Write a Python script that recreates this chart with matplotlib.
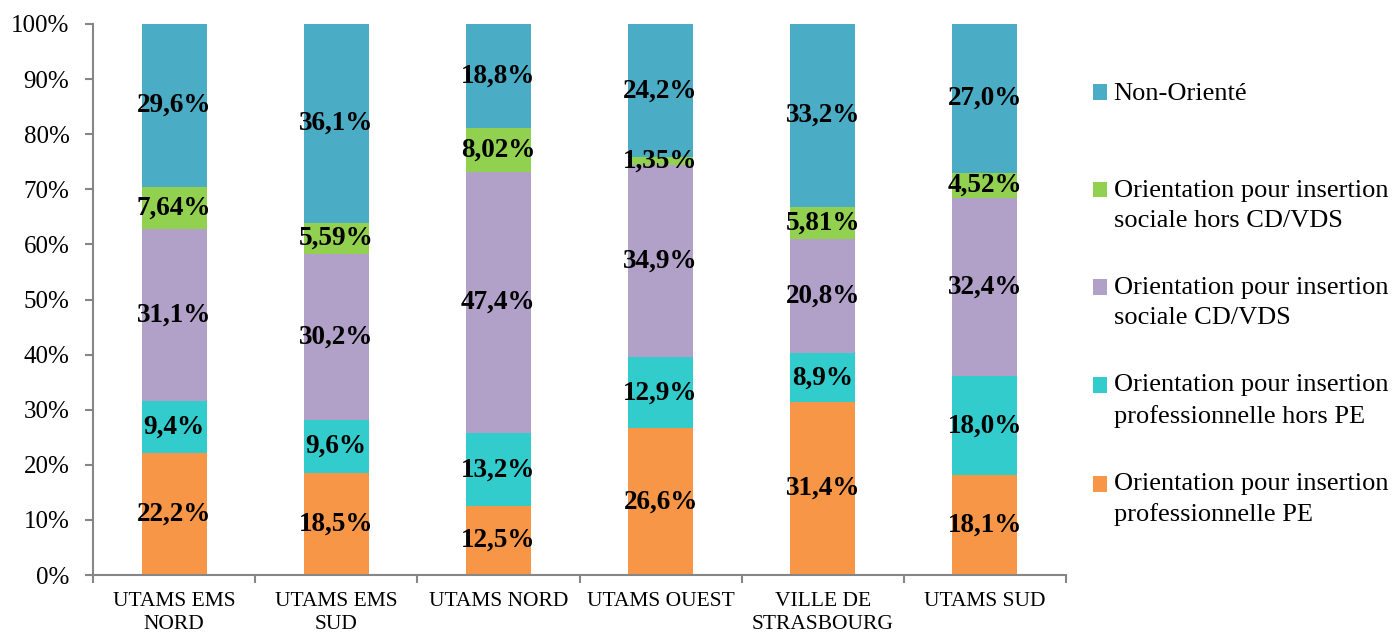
import matplotlib
matplotlib.use("Agg")
import matplotlib.pyplot as plt
import numpy as np
from matplotlib.patches import Rectangle
from matplotlib.legend_handler import HandlerPatch

categories = ["UTAMS EMS\nNORD", "UTAMS EMS\nSUD", "UTAMS NORD", "UTAMS OUEST",
              "VILLE DE\nSTRASBOURG", "UTAMS SUD"]
series_names = ["Orientation pour insertion\nprofessionnelle PE",
                "Orientation pour insertion\nprofessionnelle hors PE",
                "Orientation pour insertion\nsociale CD/VDS",
                "Orientation pour insertion\nsociale hors CD/VDS",
                "Non-Orienté"]
pe = [22.2, 18.5, 12.5, 26.6, 31.4, 18.1]
hors_pe = [9.4, 9.6, 13.2, 12.9, 8.9, 18.0]
cd_vds = [31.1, 30.2, 47.4, 34.9, 20.8, 32.4]
hors_cd_vds = [7.64, 5.59, 8.02, 1.35, 5.81, 4.52]
non_oriente = [29.6, 36.1, 18.8, 24.2, 33.2, 27.0]
labels = [
    ["22,2%", "18,5%", "12,5%", "26,6%", "31,4%", "18,1%"],
    ["9,4%", "9,6%", "13,2%", "12,9%", "8,9%", "18,0%"],
    ["31,1%", "30,2%", "47,4%", "34,9%", "20,8%", "32,4%"],
    ["7,64%", "5,59%", "8,02%", "1,35%", "5,81%", "4,52%"],
    ["29,6%", "36,1%", "18,8%", "24,2%", "33,2%", "27,0%"],
]
colors = ["#F79646", "#33CCCC", "#B1A0C7", "#92D050", "#4BACC6"]

plt.rcParams['font.family'] = ['Liberation Serif', 'DejaVu Serif']

series = [pe, hors_pe, cd_vds, hors_cd_vds, non_oriente]
data = np.array(series, dtype=float)
totals = data.sum(axis=0)
frac = data / totals * 100

fig = plt.figure(figsize=(13.93, 6.34), dpi=100)
ax = fig.add_axes([93/1393, 1-575/634, (1066-93)/1393, (575-24)/634])

x = np.arange(len(categories))
bottom = np.zeros(len(categories))
for i, (vals, col) in enumerate(zip(frac, colors)):
    ax.bar(x, vals, width=0.4, bottom=bottom, color=col, label=series_names[i])
    for j in range(len(categories)):
        ax.text(x[j], bottom[j] + vals[j] / 2, labels[i][j], ha='center', va='center',
                fontsize=19.5, fontweight='bold', color='black')
    bottom += vals

ax.set_xlim(-0.5, len(categories) - 0.5)
ax.set_ylim(0, 100)
ax.set_yticks(np.arange(0, 101, 10))
ax.set_yticklabels([f"{v}%" for v in range(0, 101, 10)], fontsize=18)
ax.set_xticks(x)
ax.set_xticklabels(categories, fontsize=15.5, linespacing=1.3)
ax.tick_params(axis='x', length=0, pad=12)
ax.set_xticks(np.arange(-0.5, len(categories), 1), minor=True)
ax.tick_params(axis='x', which='minor', length=6, width=1.5, color='#868686', direction='out')
ax.tick_params(axis='y', length=6, width=1.5, color='#868686', direction='out', pad=11)
for s in ['top', 'right']:
    ax.spines[s].set_visible(False)
for s in ['left', 'bottom']:
    ax.spines[s].set_color('#868686')
    ax.spines[s].set_linewidth(1.5)


class TopHandler(HandlerPatch):
    def create_artists(self, legend, orig_handle, xdescent, ydescent, width, height, fontsize, trans):
        shift = fontsize * 0.58
        p = Rectangle((-xdescent, -ydescent + shift), width, height,
                      facecolor=orig_handle.get_facecolor(), edgecolor='none', transform=trans)
        return [p]


leg_labels = [s for s in series_names[::-1]]
leg_labels[0] = "Non-Orienté\n "
leg_handles = [Rectangle((0, 0), 1, 1, facecolor=c) for c in colors][::-1]
leg = fig.legend(leg_handles, leg_labels, loc='upper left',
                 bbox_to_anchor=(1082/1393, 1-72/634), frameon=False, fontsize=19,
                 handlelength=0.55, handleheight=0.55, handletextpad=0.25,
                 labelspacing=1.73, borderaxespad=0,
                 handler_map={Rectangle: TopHandler()})
for t in leg.get_texts():
    t.set_linespacing(1.45)

fig.savefig("out.png", dpi=100)
